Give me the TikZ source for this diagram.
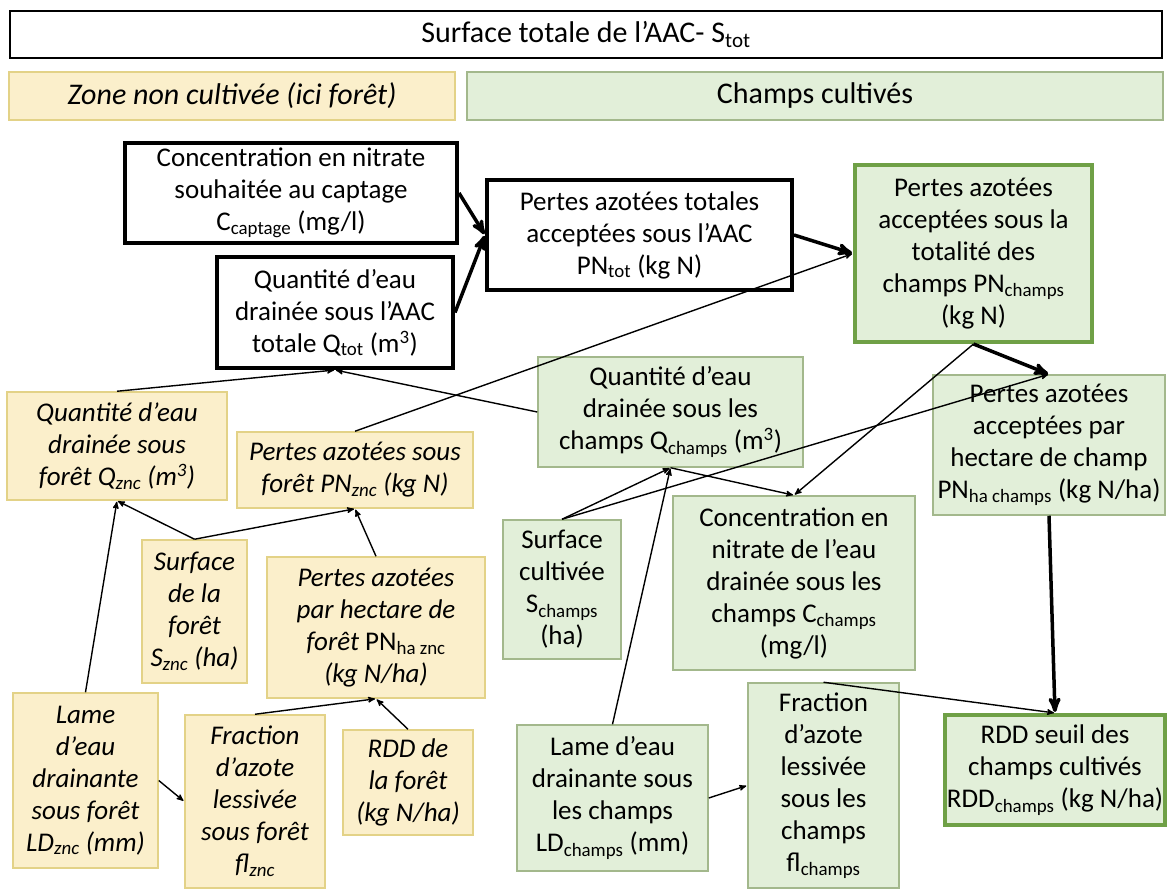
\documentclass[tikz,border=0pt]{standalone}
\usepackage{fontspec}
\setmainfont{Carlito}
\usepackage{tikz}
\usetikzlibrary{arrows,positioning,backgrounds,calc}
\definecolor{foretfill}{HTML}{FBEFCB}
\definecolor{foretline}{HTML}{E3D287}
\definecolor{champfill}{HTML}{E2EFD9}
\definecolor{champline}{HTML}{A3B88C}
\definecolor{champdark}{HTML}{6FA046}

\begin{document}
\begin{tikzpicture}[->,>=stealth',shorten >=1pt,x=1pt,y=-1pt,
 every node/.style={font=\fontsize{27}{32}\selectfont, align=center, inner sep=0pt},
 titre/.style={draw, line width=1.5pt, fill=white, font=\fontsize{30}{32}\selectfont},
 blk/.style={draw, line width=4pt, fill=white},
 yel/.style={draw=foretline, line width=1.5pt, fill=foretfill, font=\fontsize{27}{32}\selectfont\itshape},
 grn/.style={draw=champline, line width=1.5pt, fill=champfill},
 grnfort/.style={draw=champdark, line width=4pt, fill=champfill},
 thk/.style={line width=3.5pt},
 thn/.style={line width=1.4pt}]
 \fill[-, white] (0,0) rectangle (1167,890);
 \useasboundingbox (0,0) rectangle (1167,890);

 % en-tetes
 \node[titre, minimum width=1152pt, minimum height=47pt] (stot) at (586,34.5) {Surface totale de l’AAC- S\textsubscript{tot}};
 \node[yel, minimum width=446pt, minimum height=48pt, font=\fontsize{30}{32}\selectfont\itshape] (hznc) at (232,96) {Zone non cultivée (ici forêt)};
 \node[grn, minimum width=696pt, minimum height=48pt, font=\fontsize{30}{32}\selectfont] (hch) at (815,96) {Champs cultivés};

 % niveau AAC
 \node[blk, minimum width=332pt, minimum height=100pt] (ccapt) at (291,193) {Concentration en nitrate\\souhaitée au captage\\C\textsubscript{captage} (mg/l)};
 \node[blk, minimum width=236pt, minimum height=111pt] (qtot) at (335,312.5) {Quantité d’eau\\drainée sous l’AAC\\totale Q\textsubscript{tot} (m\textsuperscript{3})};
 \node[blk, minimum width=305pt, minimum height=110pt] (pntot) at (639.5,235) {Pertes azotées totales\\acceptées sous l’AAC\\PN\textsubscript{tot} (kg N)};

 % foret
 \node[yel, minimum width=220pt, minimum height=108pt] (qznc) at (117,446) {Quantité d’eau\\drainée sous\\forêt Q\textsubscript{znc} (m\textsuperscript{3})};
 \node[yel, minimum width=236pt, minimum height=76pt] (pnznc) at (355,470) {Pertes azotées sous\\forêt PN\textsubscript{znc} (kg N)};
 \node[yel, minimum width=105pt, minimum height=143pt] (sznc) at (194.5,611.5) {Surface\\de la\\forêt\\S\textsubscript{znc} (ha)};
 \node[yel, minimum width=218pt, minimum height=141pt] (pnhaznc) at (376,627.5) {Pertes azotées\\par hectare de\\forêt \textup{PN\textsubscript{ha znc}}\\(kg N/ha)};
 \node[yel, minimum width=145pt, minimum height=175pt] (ldznc) at (85.5,780.5) {Lame\\d’eau\\drainante\\sous forêt\\LD\textsubscript{znc} (mm)};
 \node[yel, minimum width=140pt, minimum height=173pt] (flznc) at (255,801.5) {Fraction\\d’azote\\lessivée\\sous forêt\\fl\textsubscript{znc}};
 \node[yel, minimum width=130pt, minimum height=105pt] (rddznc) at (408,782.5) {RDD de\\la forêt\\(kg N/ha)};

 % champs
 \node[grnfort, minimum width=237pt, minimum height=177pt] (pnch) at (973.5,253.5) {Pertes azotées\\acceptées sous la\\totalité des\\champs PN\textsubscript{champs}\\(kg N)};
 \node[grn, minimum width=265pt, minimum height=110pt] (qch) at (670.5,412) {Quantité d’eau\\drainée sous les\\champs Q\textsubscript{champs} (m\textsuperscript{3})};
 \node[grn, minimum width=232pt, minimum height=140pt] (pnha) at (1049,445) {Pertes azotées\\acceptées par\\hectare de champ\\PN\textsubscript{ha champs} (kg N/ha)};
 \node[grn, minimum width=118pt, minimum height=139pt] (sch) at (562,589.5) {Surface\\cultivée\\S\textsubscript{champs}\\(ha)};
 \node[grn, minimum width=242pt, minimum height=174pt] (cch) at (794,583) {Concentration en\\nitrate de l’eau\\drainée sous les\\champs C\textsubscript{champs}\\(mg/l)};
 \node[grn, minimum width=191pt, minimum height=146pt] (ldch) at (612.5,798) {Lame d’eau\\drainante sous\\les champs\\LD\textsubscript{champs} (mm)};
 \node[grn, minimum width=151pt, minimum height=205pt] (flch) at (823.5,785.5) {Fraction\\d’azote\\lessivée\\sous les\\champs\\fl\textsubscript{champs}};
 \node[grnfort, minimum width=220pt, minimum height=110pt] (rddch) at (1055,770) {RDD seuil des\\champs cultivés\\RDD\textsubscript{champs} (kg N/ha)};

 % fleches principales
 \draw[thk] (ccapt.east) -- (pntot.west);
 \draw[thk] (qtot.east) -- (pntot.west);
 \draw[thk] (pntot.east) -- (pnch.west);
 \draw[thk] (pnch.south) -- (pnha.north);
 \draw[thk] (pnha.south) -- (rddch.north);

 % foret
 \draw[thn] (qznc.north) -- (qtot.south);
 \draw[thn] (pnznc.north) -- (pnch.west);
 \draw[thn] (ldznc.north) -- (qznc.south);
 \draw[thn] (sznc.north) -- (qznc.south);
 \draw[thn] (sznc.north) -- (pnznc.south);
 \draw[thn] (pnhaznc.north) -- (pnznc.south);
 \draw[thn] (flznc.north) -- (pnhaznc.south);
 \draw[thn] (rddznc.north) -- (pnhaznc.south);
 \draw[thn] (ldznc.east) -- (flznc.west);

 % champs
 \draw[thn] (qch.west) -- (qtot.south);
 \draw[thn] (pnch.south) -- (cch.north);
 \draw[thn] (qch.south) -- (cch.north);
 \draw[thn] (sch.north) -- (qch.south);
 \draw[thn] (sch.north) -- (pnha.north);
 \draw[thn] (ldch.north) -- (qch.south);
 \draw[thn] (ldch.east) -- (flch.west);
 \draw[thn] (flch.north) -- (rddch.north);
 % \draw[thn] (cch.south) -- (rddch.west);
\end{tikzpicture}
\end{document}
